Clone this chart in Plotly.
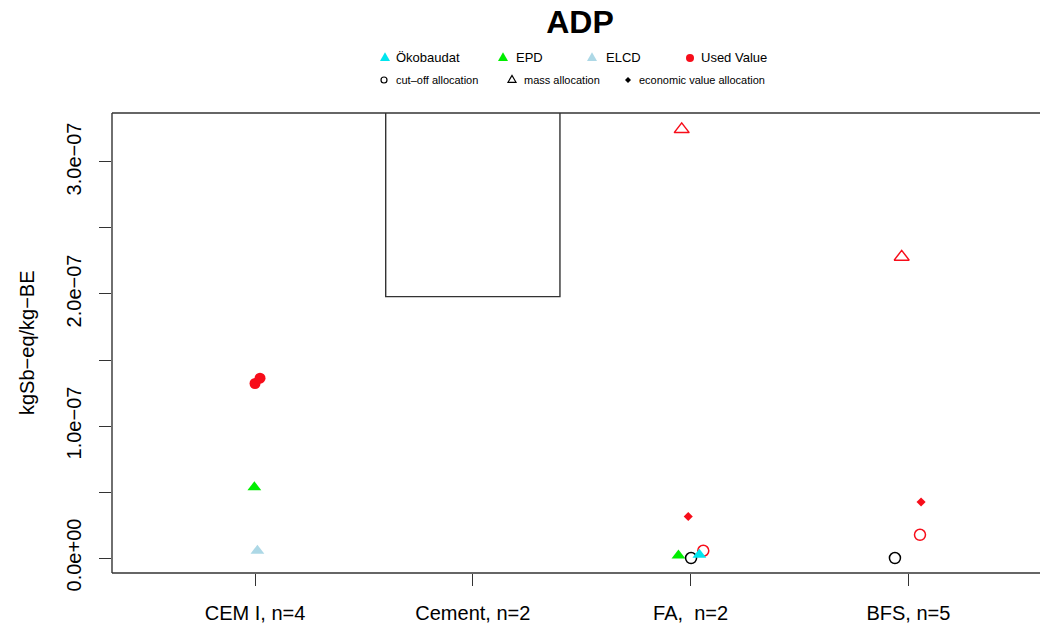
import plotly.graph_objects as go

# ---------------------------------------------------------------- data
categories = ["CEM I, n=4", "Cement, n=2", "FA,\u00a0 n=2", "BFS, n=5"]
cat_index = [1, 2, 3, 4]

# Cement: two values, so the box runs from min to max (median lies between)
cement_values = [1.98e-7, 5.6e-7]

# Individual data sources: category index, horizontal jitter, value
oko_cat, oko_jit, oko_val = [3], [0.040], [0.025e-7]
epd_cat, epd_jit, epd_val = [1, 3], [-0.003, -0.056], [0.537e-7, 0.020e-7]
elcd_cat, elcd_jit, elcd_val = [1], [0.011], [0.055e-7]

# Used values (red), split by allocation method
used_cat, used_jit, used_val = [1, 1], [0.000, 0.023], [1.322e-7, 1.362e-7]
used_cut_cat, used_cut_jit, used_cut_val = [3, 4], [0.058, 0.053], [0.055e-7, 0.176e-7]
used_mass_cat, used_mass_jit, used_mass_val = [3, 4], [-0.041, -0.031], [3.247e-7, 2.281e-7]
used_econ_cat, used_econ_jit, used_econ_val = [3, 4], [-0.011, 0.058], [0.315e-7, 0.424e-7]

# Cut-off allocation results (black)
cut_cat, cut_jit, cut_val = [3, 4], [0.002, -0.062], [0.0, 0.0]

y_ticks = [0, 0.5e-7, 1.0e-7, 1.5e-7, 2.0e-7, 2.5e-7, 3.0e-7]
y_ticktext = ["0.0e+00", "", "1.0e\u221207", "", "2.0e\u221207", "", "3.0e\u221207"]

# ---------------------------------------------------------------- style
FONT = "Liberation Sans, Arial, Helvetica, sans-serif"
RED = "#F70D1A"
CYAN = "#00E5EE"
GREEN = "#00EE00"
LIGHTBLUE = "#ADD8E6"
W, H = 1040, 625
ML, MR, MT, MB = 112, 0, 113, 52


def xs(cats, jit):
    return [c + j for c, j in zip(cats, jit)]


fig = go.Figure()

# Cement box
cmin, cmax = min(cement_values), max(cement_values)
fig.add_trace(go.Box(
    x=[2], q1=[cmin], median=[(cmin + cmax) / 2], q3=[cmax],
    lowerfence=[cmin], upperfence=[cmax], width=0.8,
    fillcolor="white", line=dict(color="#333333", width=1.4),
    whiskerwidth=0.5, boxpoints=False, showlegend=False, hoverinfo="skip",
))


def pts(cats, jit, vals, symbol, color, size, lw=0, lc=None):
    fig.add_trace(go.Scatter(
        x=xs(cats, jit), y=vals, mode="markers", showlegend=False,
        marker=dict(symbol=symbol, size=size, color=color,
                    line=dict(width=lw, color=lc or color)),
    ))


pts(used_cat, used_jit, used_val, "circle", RED, 11)
pts(used_mass_cat, used_mass_jit, used_mass_val, "triangle-up-open", RED, 13, 1.5)
pts(used_econ_cat, used_econ_jit, used_econ_val, "diamond", RED, 7)
pts(used_cut_cat, used_cut_jit, used_cut_val, "circle-open", RED, 11, 1.5)
pts(epd_cat, epd_jit, epd_val, "triangle-up", GREEN, 12)
pts(cut_cat, cut_jit, cut_val, "circle-open", "black", 11, 1.5)
pts(oko_cat, oko_jit, oko_val, "triangle-up", CYAN, 12)
pts(elcd_cat, elcd_jit, elcd_val, "triangle-up", LIGHTBLUE, 12)

# Frame (left, top, bottom; the right side runs off the page)
for x0, y0, x1, y1 in [(0, 0, 0, 1), (0, 1, 1, 1), (0, 0, 1, 0)]:
    fig.add_shape(type="line", xref="paper", yref="paper",
                  x0=x0, y0=y0, x1=x1, y1=y1,
                  line=dict(color="#333333", width=1.4))


# ---------------------------------------------------------------- legend
def px2paper(px, py):
    return (px - ML) / (W - ML - MR), (H - MB - py) / (H - MT - MB)


def tri_path(s):
    h = s * 0.866
    return f"M {-s/2},{-h/3} L {s/2},{-h/3} L 0,{2*h/3} Z"


def diamond_path(s):
    return f"M 0,{s/2} L {s/2},0 L 0,{-s/2} L {-s/2},0 Z"


def legend_glyph(px, py, kind, color, size, filled=True):
    ax, ay = px2paper(px, py)
    common = dict(xref="paper", yref="paper", xsizemode="pixel", ysizemode="pixel",
                  xanchor=ax, yanchor=ay, layer="above")
    line = dict(color=color, width=0 if filled else 1.2)
    fill = color if filled else "rgba(0,0,0,0)"
    if kind == "circle":
        r = size / 2
        fig.add_shape(type="circle", x0=-r, x1=r, y0=-r, y1=r,
                      fillcolor=fill, line=line, **common)
    elif kind == "triangle":
        fig.add_shape(type="path", path=tri_path(size),
                      fillcolor=fill, line=line, **common)
    else:
        fig.add_shape(type="path", path=diamond_path(size),
                      fillcolor=fill, line=line, **common)


legend_glyph(385, 58, "triangle", CYAN, 10)
legend_glyph(503, 58, "triangle", GREEN, 10)
legend_glyph(592, 58, "triangle", LIGHTBLUE, 10)
legend_glyph(690, 58, "circle", RED, 8)
legend_glyph(384, 80, "circle", "black", 6, filled=False)
legend_glyph(512, 80, "triangle", "black", 8, filled=False)
legend_glyph(628, 80, "diamond", "black", 6)

legend_text = [
    (394, 58, "Ökobaudat", 13), (514, 58, "EPD", 13), (604, 58, "ELCD", 13),
    (699, 58, "Used Value", 13),
    (394, 80, "cut\u2013off allocation", 11), (522, 80, "mass allocation", 11),
    (637, 80, "economic value allocation", 11),
]
for tx, ty, txt, fs in legend_text:
    ax, ay = px2paper(tx, ty)
    fig.add_annotation(x=ax, y=ay, xref="paper", yref="paper", text=txt,
                       showarrow=False, xanchor="left", yanchor="middle",
                       font=dict(family=FONT, size=fs, color="black"))

# y-axis title
tx, ty = px2paper(27, 343)
fig.add_annotation(x=tx, y=ty, xref="paper", yref="paper",
                   text="kgSb\u2212eq/kg\u2212BE", textangle=-90, showarrow=False,
                   xanchor="center", yanchor="middle",
                   font=dict(family=FONT, size=20, color="black"))

fig.update_layout(
    width=W, height=H,
    margin=dict(l=ML, r=MR, t=MT, b=MB, pad=0),
    paper_bgcolor="white", plot_bgcolor="white",
    title=dict(text="<b>ADP</b>", x=580 / W, xanchor="center", xref="container",
               y=1 - 22 / H, yanchor="middle", yref="container",
               font=dict(family=FONT, size=32, color="black")),
    xaxis=dict(range=[0.3434, 4.604], tickvals=cat_index, ticktext=categories,
               ticks="outside", ticklen=12, tickwidth=1.2, tickcolor="#333333",
               showgrid=False, zeroline=False, showline=False,
               ticklabelstandoff=10,
               tickfont=dict(family=FONT, size=20, color="black")),
    yaxis=dict(range=[-0.1135e-7, 3.371e-7], tickvals=y_ticks, ticktext=y_ticktext,
               ticks="outside", ticklen=12, tickwidth=1.2, tickcolor="#333333",
               tickangle=-90, showgrid=False, zeroline=False, showline=False,
               ticklabelstandoff=10,
               tickfont=dict(family=FONT, size=20, color="black")),
    showlegend=False,
)

fig.write_html("out.html")
